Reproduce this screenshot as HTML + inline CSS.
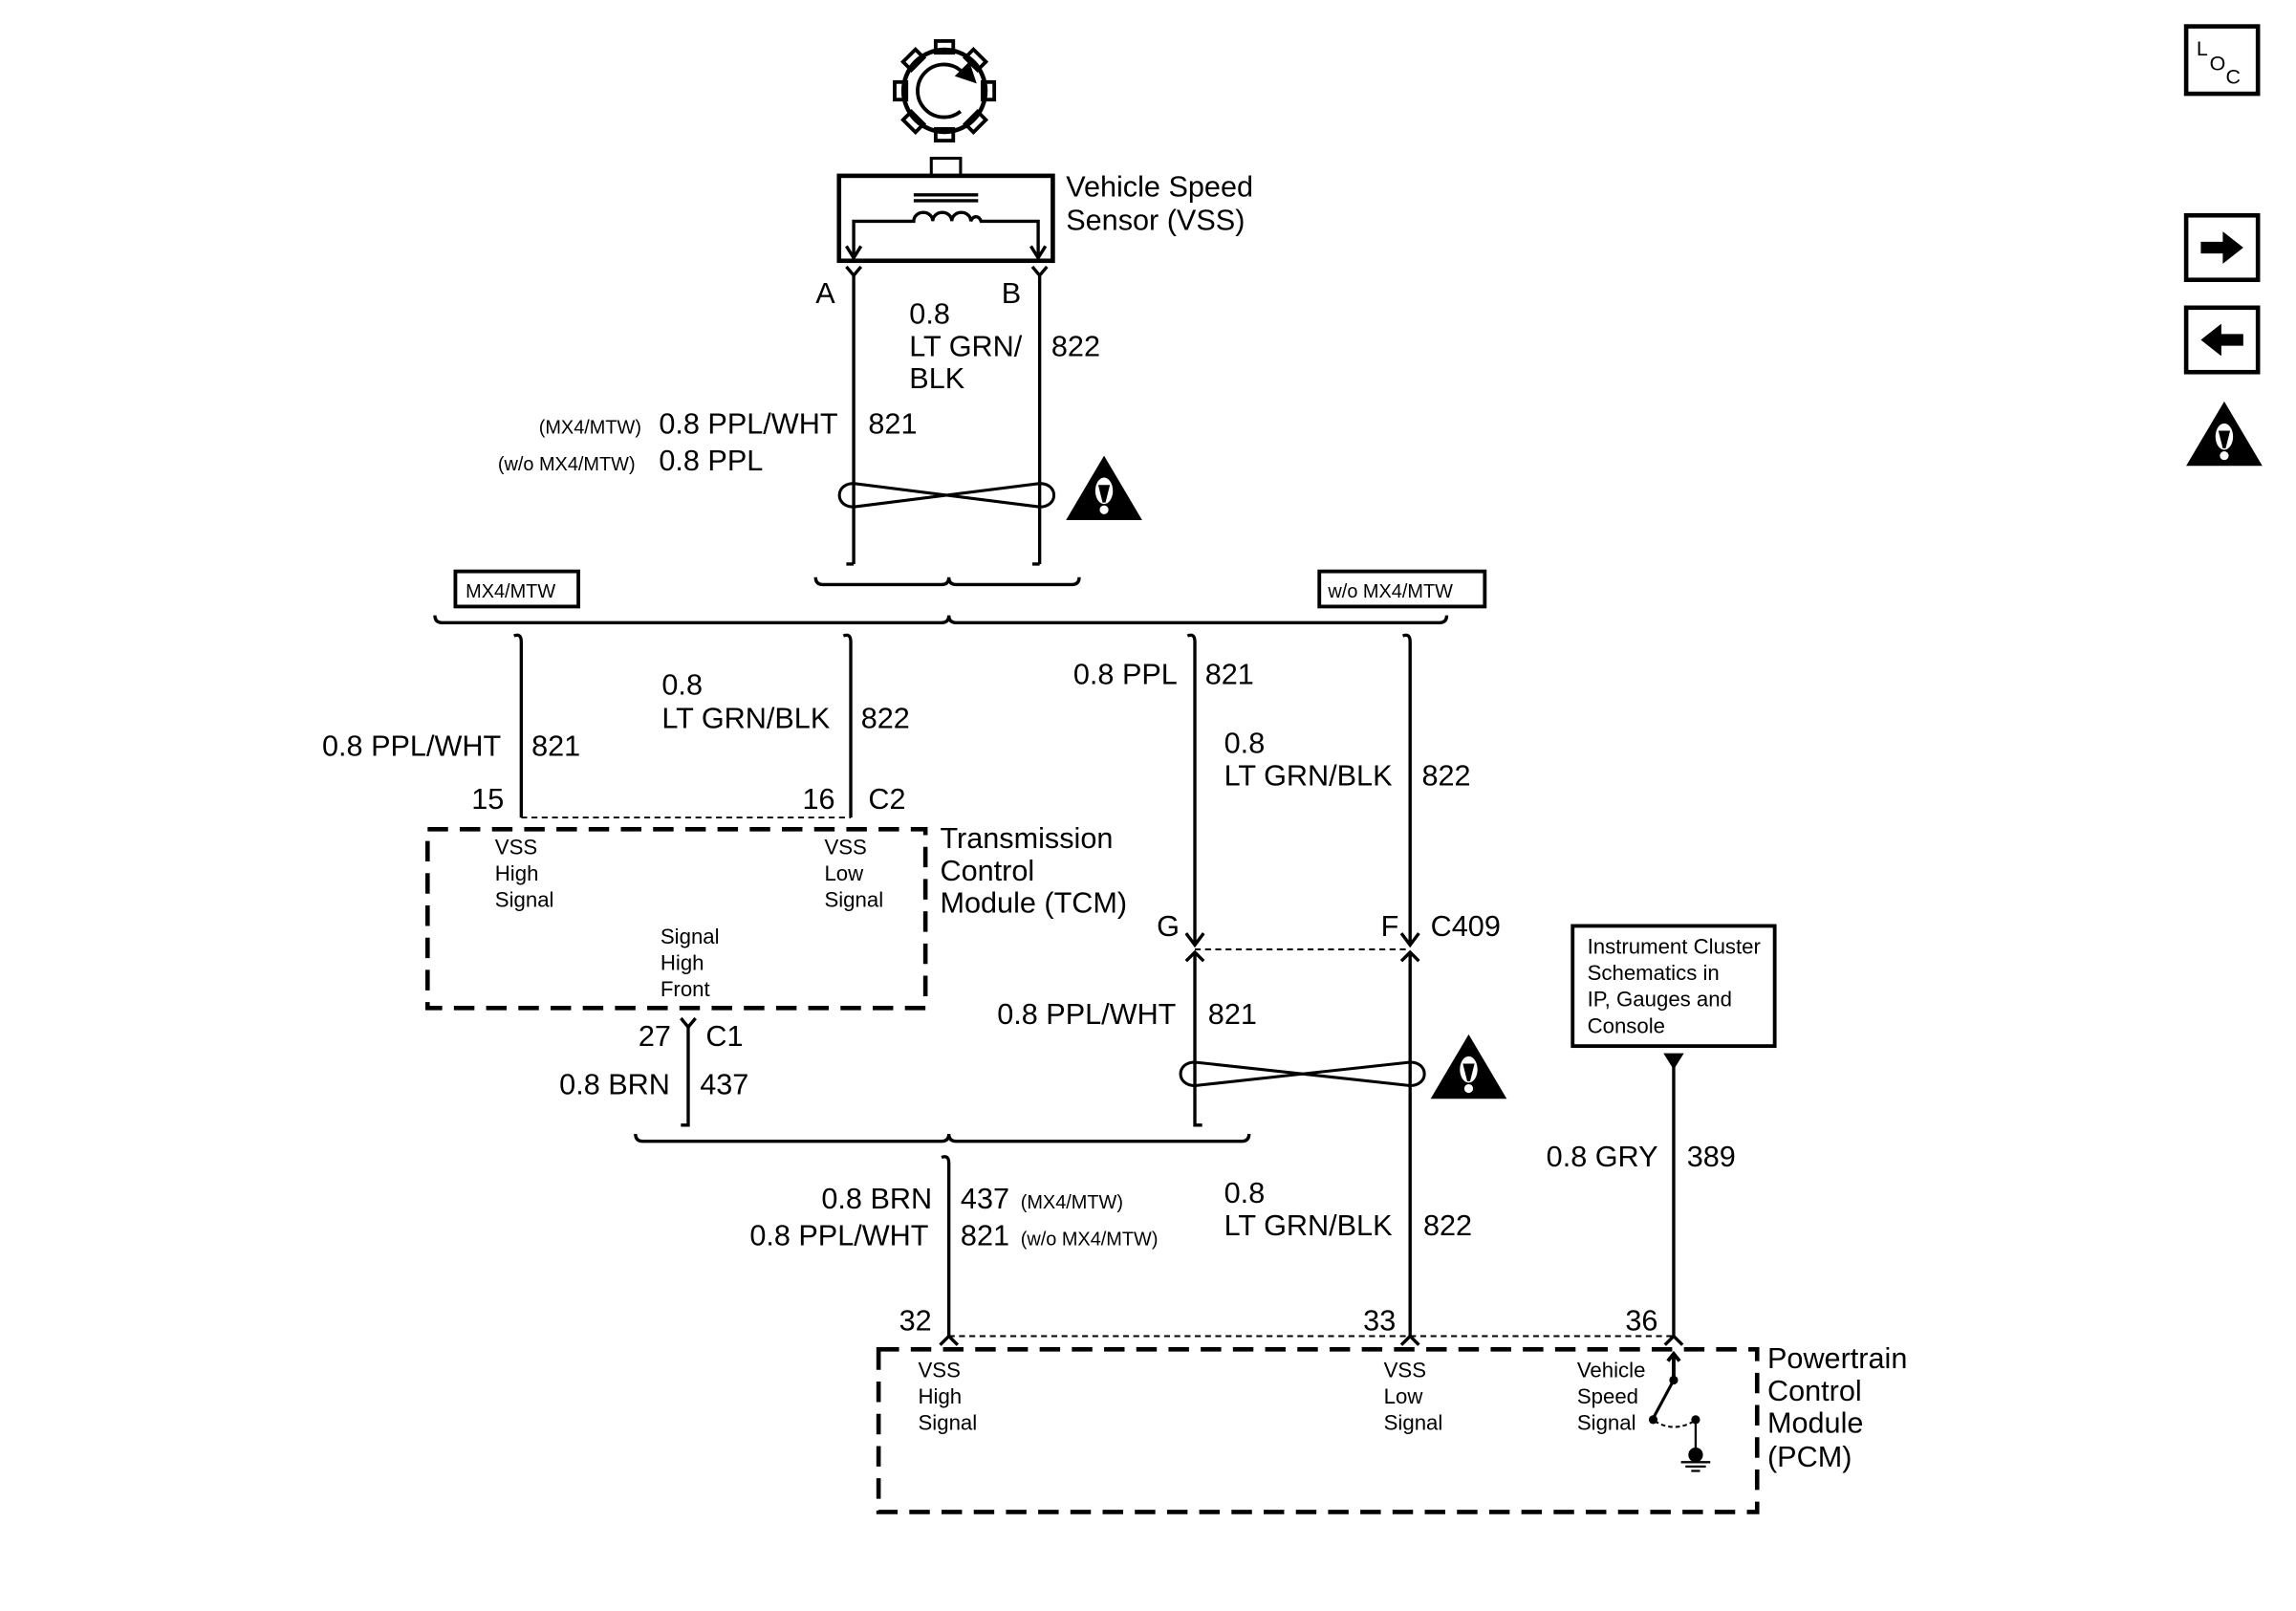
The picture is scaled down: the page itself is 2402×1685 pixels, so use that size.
<!DOCTYPE html>
<html><head><meta charset="utf-8"><style>
html,body{margin:0;padding:0;background:#fff}
svg{display:block}
text{font-family:"Liberation Sans",sans-serif;fill:#000}
.m{font-size:20px}.s{font-size:14.5px}.t{font-size:13px}
</style></head><body>
<svg width="2402" height="1685" viewBox="0 0 1568 1099.6" preserveAspectRatio="none" xmlns="http://www.w3.org/2000/svg">
<defs>
<g id="warn"><path d="M26,0 L52,44 L0,44 Z" fill="#000"/><ellipse cx="26" cy="24" rx="6" ry="9" fill="#fff"/><path d="M22,20 L30,20 L27,32 L25,32Z" fill="#000"/><circle cx="26" cy="37" r="3" fill="#fff"/></g>
</defs>
<g stroke="#000" fill="none" stroke-width="2.2">
<!-- gear -->
<circle cx="645" cy="62" r="28" stroke-width="3"/>
<g stroke-width="2.5">
<rect x="639" y="28" width="12" height="8" transform="rotate(0 645 62)"/>
<rect x="639" y="28" width="12" height="8" transform="rotate(45 645 62)"/>
<rect x="639" y="28" width="12" height="8" transform="rotate(90 645 62)"/>
<rect x="639" y="28" width="12" height="8" transform="rotate(135 645 62)"/>
<rect x="639" y="28" width="12" height="8" transform="rotate(180 645 62)"/>
<rect x="639" y="28" width="12" height="8" transform="rotate(225 645 62)"/>
<rect x="639" y="28" width="12" height="8" transform="rotate(270 645 62)"/>
<rect x="639" y="28" width="12" height="8" transform="rotate(315 645 62)"/>
</g>
<path d="M656,76 A18,18 0 1 1 656,48" stroke-width="2.5"/>
<path d="M667,57 L662,42 L652,52 Z" fill="#000" stroke="none"/>
<!-- sensor box -->
<rect x="636" y="108" width="20" height="12" stroke-width="2"/>
<rect x="573" y="120" width="146" height="58" stroke-width="3"/>
<line x1="624" y1="133" x2="668" y2="133"/><line x1="624" y1="137" x2="668" y2="137"/>
<path d="M583,176 L583,151 L624,151 A6.5,6 0 0 1 637,151 A6.5,6 0 0 1 650,151 A6.5,6 0 0 1 663,151 A4,6 0 0 1 670,151 L709,151 L709,176"/>
<path d="M578,168 L583,176 L588,168 M704,168 L709,176 L714,168"/>
<!-- wires A B -->
<path d="M578,182 L583,188 L588,182 M583,188 L583,385"/>
<path d="M705,182 L710,188 L715,182 M710,188 L710,385"/>
<path d="M578,385 L583,385 M705,385 L710,385"/>
<path d="M583,330 C570,330 570,346 583,346 L710,330 C723,330 723,346 710,346 L583,330 Z" stroke-width="2"/>
<!-- braces -->
<path d="M557,394 Q557,399 562,399 L643,399 Q648,399 648,394 Q648,399 653,399 L732,399 Q737,399 737,394"/>
<path d="M297,420 Q297,425 302,425 L643,425 Q648,425 648,420 Q648,425 653,425 L983,425 Q988,425 988,420"/>
<rect x="311" y="390" width="84" height="24" stroke-width="2.5"/>
<rect x="901" y="390" width="113" height="24" stroke-width="2.5"/>
<!-- branches -->
<path d="M351,434 Q356,432 356,438 L356,558 M576,434 Q581,432 581,438 L581,558"/>
<path d="M811,434 Q816,432 816,438 L816,645 M958,434 Q963,432 963,438 L963,645"/>
<path d="M810,637 L816,645 L822,637 M957,637 L963,645 L969,637"/>
<line x1="356" y1="558" x2="581" y2="558" stroke-width="1.3" stroke-dasharray="4 3"/>
<line x1="816" y1="648" x2="963" y2="648" stroke-width="1.3" stroke-dasharray="4 3"/>
<rect x="292" y="566" width="340" height="122" stroke-width="3" stroke-dasharray="14 8"/>
<!-- TCM out -->
<path d="M465,695 L470,701 L475,695 M470,701 L470,768 L465,768"/>
<path d="M810,656 L816,650 L822,656 M816,650 L816,768 L821,768"/>
<path d="M957,656 L963,650 L969,656 M963,650 L963,912"/>
<path d="M816,725 C803,725 803,741 816,741 L963,725 C976,725 976,741 963,741 L816,725 Z" stroke-width="2"/>
<path d="M434,774 Q434,779 439,779 L643,779 Q648,779 648,774 Q648,779 653,779 L848,779 Q853,779 853,774"/>
<path d="M643,790 Q648,788 648,794 L648,912"/>
<!-- cluster -->
<rect x="1074" y="632" width="138" height="82" stroke-width="2.5"/>
<line x1="1143" y1="720" x2="1143" y2="912"/>
<path d="M1138,720 L1148,720 L1143,728 Z" fill="#000"/>
<line x1="648" y1="912" x2="1143" y2="912" stroke-width="1.3" stroke-dasharray="4 3"/>
<path d="M642,918 L648,912 L654,918 M957,918 L963,912 L969,918 M1137,918 L1143,912 L1149,918"/>
<rect x="600" y="921" width="600" height="111" stroke-width="3" stroke-dasharray="14 8"/>
<!-- switch -->
<path d="M1143,924 L1143,940 M1139,929 L1143,924 L1147,929" stroke-width="2.5"/>
<path d="M1143,942 L1129,968" stroke-width="2"/>
<path d="M1130,970 Q1143,978 1157,970" stroke-width="1.3" stroke-dasharray="3 2"/>
<path d="M1158,970 L1158,994 M1148,998 L1168,998 M1151,1001 L1165,1001 M1155,1004 L1161,1004" stroke-width="1.5"/>
<!-- right icons -->
<rect x="1493" y="18" width="49" height="46" stroke-width="3"/>
<rect x="1493" y="147" width="49" height="44" stroke-width="3"/>
<rect x="1493" y="210" width="49" height="44" stroke-width="3"/>
</g>
<g fill="#000">
<circle cx="1143" cy="942" r="3"/><circle cx="1129" cy="969" r="3"/><circle cx="1158" cy="969" r="3"/><circle cx="1158" cy="993" r="5"/>
<path d="M1503,165 L1518,165 L1518,158 L1532,169 L1518,180 L1518,173 L1503,173Z"/>
<path d="M1532,228 L1517,228 L1517,221 L1503,232 L1517,243 L1517,236 L1532,236Z"/>
</g>
<use href="#warn" x="728" y="311"/>
<use href="#warn" x="977" y="706"/>
<use href="#warn" x="1493" y="274"/>
<text x="1500" y="38" font-size="14">L</text><text x="1509" y="48" font-size="14">O</text><text x="1520" y="57" font-size="14">C</text>
<g class="m">
<text x="728" y="134">Vehicle Speed</text><text x="728" y="157">Sensor (VSS)</text>
<text x="557" y="207">A</text><text x="684" y="207">B</text>
<text x="621" y="221">0.8</text><text x="621" y="243">LT GRN/</text><text x="621" y="265">BLK</text><text x="718" y="243">822</text>
<text x="450" y="296">0.8 PPL/WHT</text><text x="593" y="296">821</text>
<text x="450" y="321">0.8 PPL</text>
<text x="220" y="516">0.8 PPL/WHT</text><text x="363" y="516">821</text>
<text x="452" y="474">0.8</text><text x="452" y="497">LT GRN/BLK</text><text x="588" y="497">822</text>
<text x="322" y="552">15</text><text x="548" y="552">16</text><text x="593" y="552">C2</text>
<text x="642" y="579">Transmission</text><text x="642" y="601">Control</text><text x="642" y="623">Module (TCM)</text>
<text x="436" y="714">27</text><text x="482" y="714">C1</text>
<text x="382" y="747">0.8 BRN</text><text x="478" y="747">437</text>
<text x="733" y="467">0.8 PPL</text><text x="823" y="467">821</text>
<text x="836" y="514">0.8</text><text x="836" y="536">LT GRN/BLK</text><text x="971" y="536">822</text>
<text x="790" y="639">G</text><text x="943" y="639">F</text><text x="977" y="639">C409</text>
<text x="681" y="699">0.8 PPL/WHT</text><text x="825" y="699">821</text>
<text x="561" y="825">0.8 BRN</text><text x="656" y="825">437</text>
<text x="512" y="850">0.8 PPL/WHT</text><text x="656" y="850">821</text>
<text x="836" y="821">0.8</text><text x="836" y="843">LT GRN/BLK</text><text x="972" y="843">822</text>
<text x="1056" y="796">0.8 GRY</text><text x="1152" y="796">389</text>
<text x="614" y="908">32</text><text x="931" y="908">33</text><text x="1110" y="908">36</text>
<text x="1207" y="934">Powertrain</text><text x="1207" y="956">Control</text><text x="1207" y="978">Module</text><text x="1207" y="1001">(PCM)</text>
</g>
<g class="t">
<text x="368" y="296">(MX4/MTW)</text><text x="340" y="321">(w/o MX4/MTW)</text>
<text x="318" y="408">MX4/MTW</text><text x="907" y="408">w/o MX4/MTW</text>
<text x="697" y="825">(MX4/MTW)</text><text x="697" y="850">(w/o MX4/MTW)</text>
</g>
<g class="s">
<text x="338" y="583">VSS</text><text x="338" y="601">High</text><text x="338" y="619">Signal</text>
<text x="563" y="583">VSS</text><text x="563" y="601">Low</text><text x="563" y="619">Signal</text>
<text x="451" y="644">Signal</text><text x="451" y="662">High</text><text x="451" y="680">Front</text>
<text x="1084" y="651">Instrument Cluster</text><text x="1084" y="669">Schematics in</text><text x="1084" y="687">IP, Gauges and</text><text x="1084" y="705">Console</text>
<text x="627" y="940">VSS</text><text x="627" y="958">High</text><text x="627" y="976">Signal</text>
<text x="945" y="940">VSS</text><text x="945" y="958">Low</text><text x="945" y="976">Signal</text>
<text x="1077" y="940">Vehicle</text><text x="1077" y="958">Speed</text><text x="1077" y="976">Signal</text>
</g>
</svg>
</body></html>
